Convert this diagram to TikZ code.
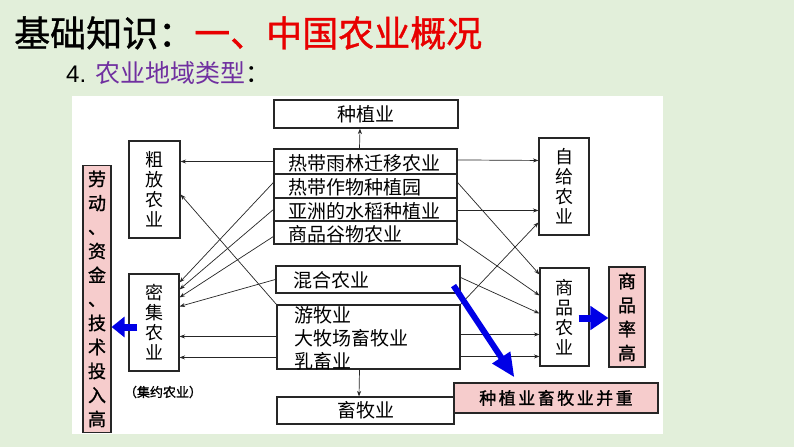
\documentclass[tikz,border=0pt]{standalone}
\usepackage{fontspec}
\setmainfont{Liberation Sans}
\newfontfamily\cjk{Noto Sans CJK SC}
\newfontfamily\cjkb[FakeBold=1.2]{Noto Sans CJK SC}
\newfontfamily\cjkt[FakeBold=1.0]{Noto Sans CJK SC}
\usetikzlibrary{arrows.meta,calc}
\definecolor{bggreen}{RGB}{226,239,218}
\definecolor{pinkfill}{RGB}{246,204,204}
\definecolor{titlered}{RGB}{232,0,0}
\definecolor{subpurple}{RGB}{112,48,160}
\definecolor{bigblue}{RGB}{0,0,230}
\begin{document}
\begin{tikzpicture}[x=1pt,y=-1pt,
  box/.style={draw=black!85, line width=1.1pt, fill=white, inner sep=0pt},
  pinkbox/.style={draw=black!85, line width=1.1pt, fill=pinkfill, inner sep=0pt},
  rowtext/.style={font=\cjk\fontsize{19}{21}\selectfont, inner sep=0pt, anchor=west},
  vtext/.style={font=\cjk\fontsize{18}{20}\selectfont, align=center},
  conn/.style={draw=black!85, line width=0.7pt, -{Stealth[length=5.5pt,width=4pt]}},
  fat/.style={draw=bigblue, line width=7pt}
]
\useasboundingbox (0,0) rectangle (794,447);
\fill[bggreen] (0,0) rectangle (794,447);
\fill[white] (72,96) rectangle (663,434);

% titles
\node[anchor=west, inner sep=0pt, font=\cjkt\fontsize{36}{40}\selectfont] (title) at (14,33)
  {基础知识：\textcolor{titlered}{一、中国农业概况}};
\node[anchor=west, inner sep=0pt] (sub) at (66,73)
  {{\fontsize{24}{28}\selectfont 4. }{\cjk\fontsize{25}{28}\selectfont\textcolor{subpurple}{农业地域类型}：}};

% boxes
\node[box, minimum width=184, minimum height=28, font=\cjk\fontsize{19}{21}\selectfont] (zhong) at (366,114) {种植业};
\node[box, minimum width=183, minimum height=25] (r1) at (365.5,161.5) {};
\node[box, minimum width=183, minimum height=24] (r2) at (365.5,186) {};
\node[box, minimum width=183, minimum height=23] (r3) at (365.5,209.5) {};
\node[box, minimum width=183, minimum height=23] (r4) at (365.5,232.5) {};
\node[rowtext] (r1t) at (288,163) {热带雨林迁移农业};
\node[rowtext] (r2t) at (288,187) {热带作物种植园};
\node[rowtext] (r3t) at (288,211) {亚洲的水稻种植业};
\node[rowtext] (r4t) at (288,234) {商品谷物农业};

\node[box, minimum width=184, minimum height=27] (hun) at (368,279.5) {};
\node[rowtext] (hunt) at (293,280) {混合农业};
\node[box, minimum width=183, minimum height=64] (you) at (368.5,337) {};
\node[rowtext, align=left, font=\cjk\fontsize{19}{23}\selectfont] (yout) at (294,338.5) {游牧业\\大牧场畜牧业\\乳畜业};
\node[box, minimum width=177, minimum height=27, font=\cjk\fontsize{19}{21}\selectfont] (xu) at (365.5,410.5) {畜牧业};

\node[box, minimum width=51, minimum height=97, vtext] (cu) at (154.5,189.5) {粗\\放\\农\\业};
\node[box, minimum width=50, minimum height=97, vtext] (mi) at (154,322.5) {密\\集\\农\\业};
\node[font=\cjkb\fontsize{13}{15}\selectfont, inner sep=0pt] (jy) at (163,392) {（集约农业）};
\node[pinkbox, minimum width=28, minimum height=267, align=center, font=\cjkb\fontsize{18}{24}\selectfont] (lao) at (97,299)
  {劳\\动\\、\\资\\金\\、\\技\\术\\投\\入\\高};

\node[box, minimum width=50, minimum height=97, vtext] (zi) at (564,186.5) {自\\给\\农\\业};
\node[box, minimum width=49, minimum height=98, vtext] (sp) at (564.5,317) {商\\品\\农\\业};
\node[pinkbox, minimum width=36, minimum height=100, align=center, font=\cjkb\fontsize{18}{24}\selectfont] (splv) at (627,317)
  {商\\品\\率\\高};
\node[pinkbox, minimum width=204, minimum height=30, font=\cjkb\fontsize{17}{20}\selectfont] (bz) at (556,398)
  {种\kern2.5pt 植\kern2.5pt 业\kern2.5pt 畜\kern2.5pt 牧\kern2.5pt 业\kern2.5pt 并\kern2.5pt 重};

% vertical connectors
\draw[conn] ($(r1.north)+(-6,0)$) -- ($(zhong.south)+(-6,0)$);
\draw[conn] ($(you.south)+(-9,0)$) -- ($(xu.north)+(-6.5,0)$);

% left connectors
\draw[conn] (r1.west) -- (r1.west -| cu.east);
\draw[conn] ($(r2.north west)+(0,9)$) -- ($(mi.north east)+(0,9)$);
\draw[conn] ($(r3.north west)+(0,12)$) -- ($(mi.north east)+(0,16)$);
\draw[conn] ($(r4.north west)+(0,16)$) -- ($(mi.north east)+(0,24)$);
\draw[conn] ($(hun.north west)+(0,14)$) -- ($(mi.north east)+(0,33)$);
\draw[conn] (you.north west) -- ($(cu.north east)+(0,54)$);
\draw[conn] ($(you.north west)+(0,32)$) -- ($(mi.north east)+(0,63)$);
\draw[conn] ($(you.north west)+(0,53)$) -- ($(mi.north east)+(0,84)$);

% right connectors
\draw[conn] ($(r1.north east)+(0,11.5)$) -- ($(zi.north west)+(0,23)$);
\draw[conn] ($(r2.north east)+(0,9)$) -- ($(sp.north west)+(0,7)$);
\draw[conn] ($(r3.north east)+(0,13)$) -- ($(zi.north west)+(0,73)$);
\draw[conn] ($(r4.north east)+(0,18)$) -- ($(sp.north west)+(0,28)$);
\draw[conn] ($(hun.north east)+(0,12)$) -- ($(sp.north west)+(0,46)$);
\draw[conn] (you.north east) -- ($(zi.north west)+(0,85)$);
\draw[conn] ($(you.north east)+(0,30)$) -- ($(sp.north west)+(0,67)$);
\draw[conn] ($(you.north east)+(0,52)$) -- ($(sp.north west)+(0,89)$);

% fat blue arrows
\draw[fat, -{Triangle[length=13pt,width=20pt]}] ($(mi.west)+(9,4.5)$) -- ($(lao.east)+(0,28)$);
\draw[fat, -{Triangle[length=18pt,width=23pt]}] ($(sp.east)+(-11,1)$) -- ($(splv.west)+(0,1)$);
\draw[draw=bigblue, line width=6pt, -{Triangle[length=24pt,width=20pt]}] ($(hun.south east)+(-7,-8)$) -- ($(bz.north west)+(61,-5)$);
\end{tikzpicture}
\end{document}
